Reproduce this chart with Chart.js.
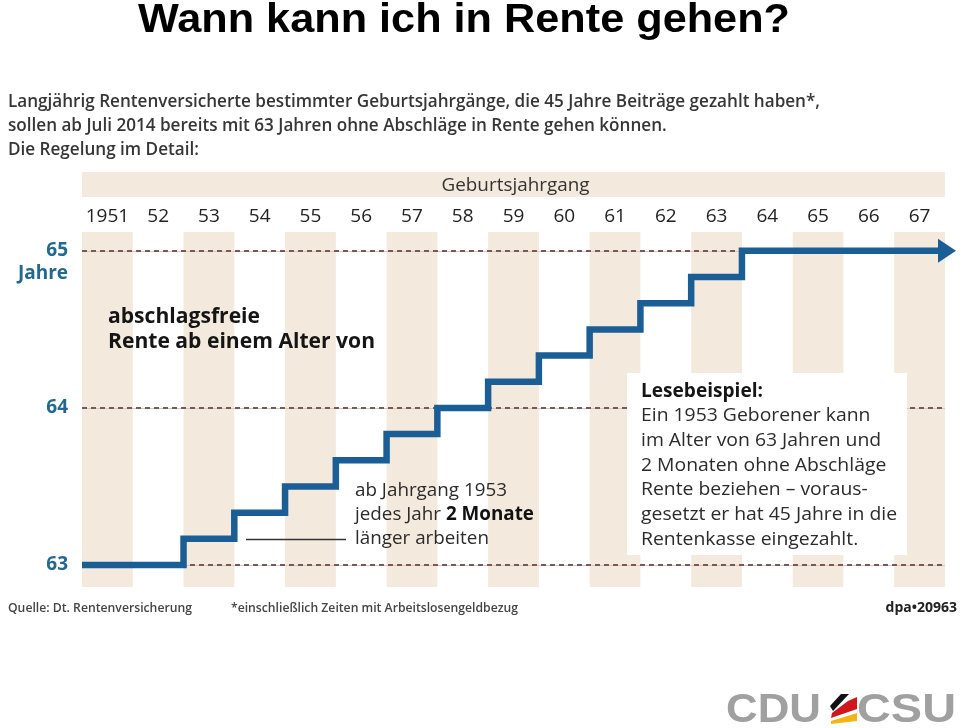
<!DOCTYPE html>
<html>
<head>
<meta charset="utf-8">
<title>Wann kann ich in Rente gehen?</title>
<script src="https://cdn.jsdelivr.net/npm/chart.js@4.4.1/dist/chart.umd.min.js"></script>
<style>
  html, body { margin: 0; padding: 0; background: #fff; }
  #wrap { width: 960px; height: 728px; }
</style>
</head>
<body>
<div id="wrap"><canvas id="rente"></canvas></div>
<script>
// Geburtsjahrgang und abschlagsfreies Rentenalter (Jahre + Monate)
const birthYears = [1951, 1952, 1953, 1954, 1955, 1956, 1957, 1958, 1959, 1960, 1961, 1962, 1963, 1964, 1965, 1966, 1967];
const yearLabels = ['1951', '52', '53', '54', '55', '56', '57', '58', '59', '60', '61', '62', '63', '64', '65', '66', '67'];
const ageYears  = [63, 63, 63, 63, 63, 63, 63, 64, 64, 64, 64, 64, 64, 65, 65, 65, 65];
const ageMonths = [0, 0, 2, 4, 6, 8, 10, 0, 2, 4, 6, 8, 10, 0, 0, 0, 0];
const ageTicks = [63, 64, 65];

const lineBlue = '#1b5e95';
const stripe = '#f4e9dd';
const tealText = '#23698f';

// each year's value starts at the left edge of its column, last one runs to the right edge
const stepPoints = birthYears.map((yr, i) => ({ x: yr - 0.5, y: ageYears[i] + ageMonths[i] / 12 }));
stepPoints.push({ x: birthYears[birthYears.length - 1] + 0.5, y: stepPoints[stepPoints.length - 1].y });

// draws lines fitted to a given width (the dpa font is narrow)
function textBlock(ctx, lines, x, y0, lh, font, color, width) {
  ctx.font = font;
  const widest = Math.max(...lines.map(l => ctx.measureText(l).width));
  const k = width / widest;
  ctx.save();
  ctx.translate(x, 0);
  ctx.scale(k, 1);
  ctx.fillStyle = color;
  ctx.textAlign = 'left';
  ctx.textBaseline = 'alphabetic';
  lines.forEach((l, i) => ctx.fillText(l, 0, y0 + i * lh));
  ctx.restore();
  return k;
}

const backdrop = {
  id: 'backdrop',
  beforeDraw(chart) {
    const { ctx, chartArea: a, scales: { x, y } } = chart;
    ctx.save();

    // title
    textBlock(ctx, ['Wann kann ich in Rente gehen?'], 138, 32, 0,
      'bold 41px "Liberation Sans", Arial, sans-serif', '#000', 652);

    // intro
    textBlock(ctx, [
      'Langjährig Rentenversicherte bestimmter Geburtsjahrgänge, die 45 Jahre Beiträge gezahlt haben*,',
      'sollen ab Juli 2014 bereits mit 63 Jahren ohne Abschläge in Rente gehen können.',
      'Die Regelung im Detail:'
    ], 8, 107, 24, '600 18px "Open Sans"', '#363636', 812);

    // stripes on every second column
    ctx.fillStyle = stripe;
    birthYears.forEach((yr, i) => {
      if (i % 2) return;
      const l = x.getPixelForValue(yr - 0.5);
      const r = x.getPixelForValue(yr + 0.5);
      ctx.fillRect(l, a.top, r - l, a.bottom - a.top);
    });

    // header bar
    ctx.fillRect(a.left, 172, a.right - a.left, 25);
    textBlock(ctx, ['Geburtsjahrgang'], (a.left + a.right) / 2 - 72, 191, 0, '19px "Open Sans"', '#333', 148);

    // thin reddish line under the dashes
    ctx.strokeStyle = '#f2bfae';
    ctx.lineWidth = 1;
    ageTicks.forEach(t => {
      const py = Math.round(y.getPixelForValue(t)) + 0.5;
      ctx.beginPath();
      ctx.moveTo(a.left, py);
      ctx.lineTo(a.right, py);
      ctx.stroke();
    });

    // "Jahre" under 65
    ctx.fillStyle = tealText;
    ctx.font = 'bold 19px "Open Sans"';
    ctx.textAlign = 'right';
    ctx.fillText('Jahre', 68, y.getPixelForValue(65) + 28);
    ctx.restore();
  },
  afterDatasetsDraw(chart) {
    const { ctx } = chart;
    const meta = chart.getDatasetMeta(0);
    const p = meta.data[meta.data.length - 1];
    ctx.save();
    ctx.fillStyle = lineBlue;
    ctx.beginPath();
    ctx.moveTo(p.x - 7, p.y - 12);
    ctx.lineTo(p.x + 11, p.y);
    ctx.lineTo(p.x - 7, p.y + 12);
    ctx.closePath();
    ctx.fill();
    ctx.restore();
  },
  afterDraw(chart) {
    const { ctx } = chart;
    ctx.save();

    // label inside the chart
    textBlock(ctx, ['abschlagsfreie', 'Rente ab einem Alter von'], 108, 323, 25,
      'bold 22px "Open Sans"', '#151515', 267);

    // annotation with leader line
    ctx.strokeStyle = '#333';
    ctx.lineWidth = 1.5;
    ctx.beginPath();
    ctx.moveTo(246, 539.5);
    ctx.lineTo(346, 539.5);
    ctx.stroke();
    const k = textBlock(ctx, ['ab Jahrgang 1953'], 355, 496, 0, '19px "Open Sans"', '#2b2b2b', 152);
    ctx.save();
    ctx.translate(355, 0);
    ctx.scale(k, 1);
    ctx.fillStyle = '#2b2b2b';
    ctx.font = '19px "Open Sans"';
    ctx.fillText('jedes Jahr ', 0, 520);
    const off = ctx.measureText('jedes Jahr ').width;
    ctx.font = 'bold 19px "Open Sans"';
    ctx.fillStyle = '#111';
    ctx.fillText('2 Monate', off, 520);
    ctx.font = '19px "Open Sans"';
    ctx.fillStyle = '#2b2b2b';
    ctx.fillText('länger arbeiten', 0, 544);
    ctx.restore();

    // reading example box
    ctx.fillStyle = '#fff';
    ctx.fillRect(627, 373, 280, 182);
    textBlock(ctx, ['Lesebeispiel:'], 641, 397, 0, 'bold 19px "Open Sans"', '#151515', 122);
    textBlock(ctx, [
      'Ein 1953 Geborener kann',
      'im Alter von 63 Jahren und',
      '2 Monaten ohne Abschläge',
      'Rente beziehen – voraus-',
      'gesetzt er hat 45 Jahre in die',
      'Rentenkasse eingezahlt.'
    ], 641, 421, 24.8, '19px "Open Sans"', '#2b2b2b', 256);

    // footer
    textBlock(ctx, ['Quelle: Dt. Rentenversicherung'], 8, 612, 0, '600 13px "Open Sans"', '#444', 184);
    textBlock(ctx, ['*einschließlich Zeiten mit Arbeitslosengeldbezug'], 231, 612, 0, '600 13px "Open Sans"', '#444', 287);
    ctx.fillStyle = '#222';
    ctx.textAlign = 'right';
    ctx.font = 'bold 14px "Open Sans"';
    ctx.fillText('dpa•20963', 957, 612, 73);

    // party logo
    ctx.textAlign = 'left';
    textBlock(ctx, ['CDU'], 726, 722, 0, 'bold 40px "Liberation Sans", Arial, sans-serif', '#a0a0a0', 95);
    textBlock(ctx, ['CSU'], 857, 722, 0, 'bold 40px "Liberation Sans", Arial, sans-serif', '#a0a0a0', 99);
    ctx.fillStyle = '#111';
    ctx.beginPath();
    ctx.moveTo(841, 694); ctx.lineTo(849, 694); ctx.lineTo(833, 711); ctx.lineTo(830, 706);
    ctx.closePath(); ctx.fill();
    ctx.fillStyle = '#d0161c';
    ctx.beginPath();
    ctx.moveTo(848, 701); ctx.lineTo(857, 697); ctx.lineTo(857, 709); ctx.lineTo(831, 718); ctx.lineTo(832, 713);
    ctx.closePath(); ctx.fill();
    ctx.fillStyle = '#f2b416';
    ctx.beginPath();
    ctx.moveTo(831, 721); ctx.lineTo(857, 713); ctx.lineTo(857, 721); ctx.lineTo(831, 724);
    ctx.closePath(); ctx.fill();
    ctx.restore();
  }
};

new Chart(document.getElementById('rente'), {
  type: 'line',
  data: {
    datasets: [{
      data: stepPoints,
      stepped: 'before',
      borderColor: lineBlue,
      borderWidth: 6.5,
      borderCapStyle: 'round',
      borderJoinStyle: 'miter',
      pointRadius: 0,
      fill: false
    }]
  },
  options: {
    responsive: true,
    maintainAspectRatio: false,
    animation: false,
    layout: { padding: { top: 160, right: 15, bottom: 141, left: 0 } },
    plugins: {
      legend: { display: false },
      tooltip: { enabled: false }
    },
    scales: {
      x: {
        type: 'linear',
        position: 'top',
        min: birthYears[0] - 0.5,
        max: birthYears[birthYears.length - 1] + 0.5,
        afterBuildTicks: s => { s.ticks = birthYears.map(v => ({ value: v })); },
        afterFit: s => { s.height = 72; },
        grid: { display: false },
        border: { display: false },
        ticks: {
          autoSkip: false,
          maxRotation: 0,
          padding: -4,
          color: '#222',
          font: { family: 'Open Sans', size: 19 },
          callback: v => yearLabels[birthYears.indexOf(v)]
        }
      },
      y: {
        min: 62.86,
        max: 65.12,
        afterBuildTicks: s => { s.ticks = ageTicks.map(v => ({ value: v })); },
        afterFit: s => { s.width = 82; },
        grid: { color: '#6e5c5e', lineWidth: 2, drawTicks: false },
        border: { display: false, dash: [5, 4] },
        ticks: {
          padding: 14,
          color: tealText,
          font: { family: 'Open Sans', size: 19, weight: 'bold' },
          callback: v => String(v)
        }
      }
    }
  },
  plugins: [backdrop]
});
</script>
</body>
</html>
